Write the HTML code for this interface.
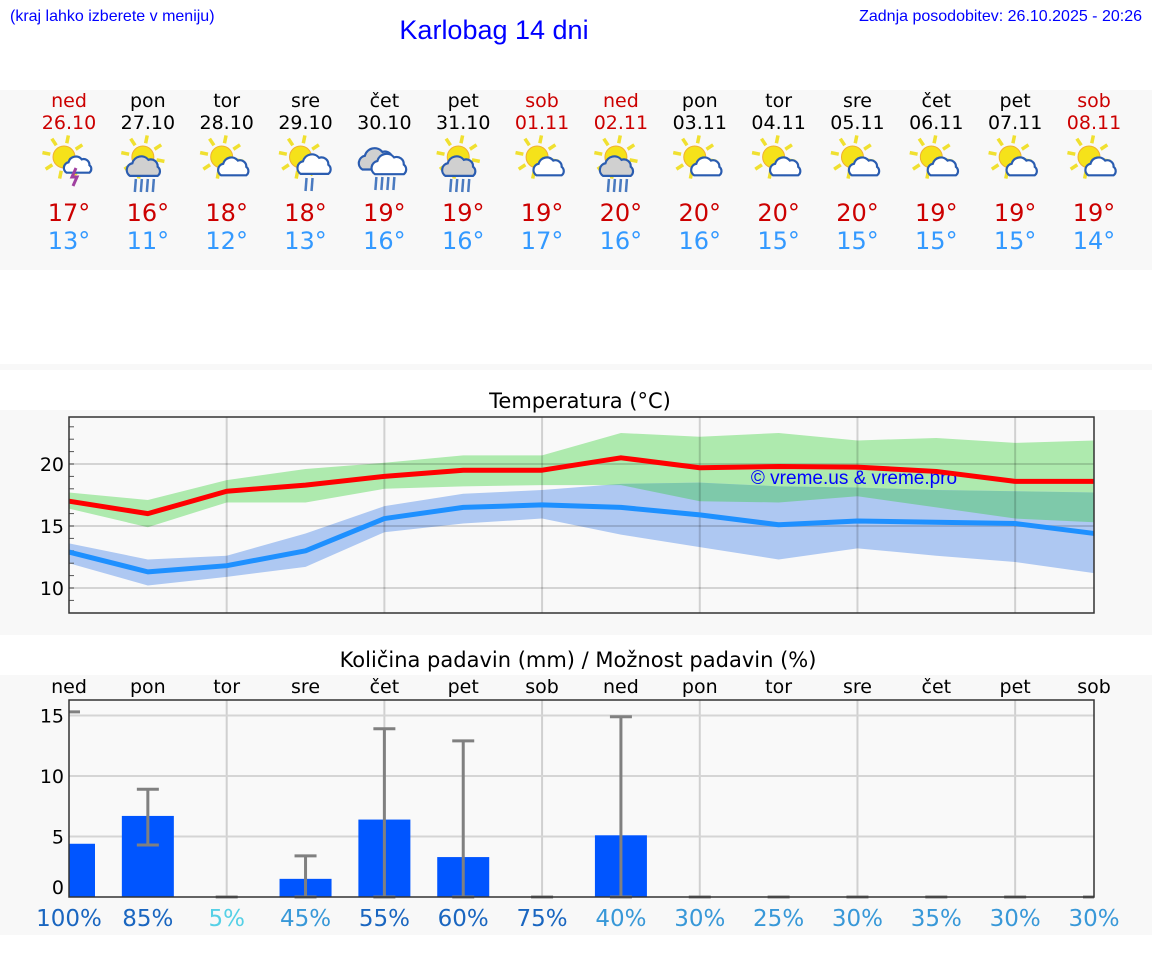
<!DOCTYPE html>
<html><head><meta charset="utf-8">
<style>
html,body{margin:0;padding:0;background:#fff;}
svg{display:block;font-family:"DejaVu Sans","Liberation Sans",sans-serif;}
</style></head>
<body>
<svg id="root" width="1152" height="975" viewBox="0 0 1152 975" xmlns="http://www.w3.org/2000/svg">
  <rect x="0" y="0" width="1152" height="975" fill="#ffffff"/>
  <text x="10" y="21" font-family="Liberation Sans, sans-serif" font-size="16" fill="#0000ff">(kraj lahko izberete v meniju)</text>
  <text x="494" y="39" text-anchor="middle" font-family="Liberation Sans, sans-serif" font-size="27" fill="#0000ff">Karlobag 14 dni</text>
  <text x="1142" y="21" text-anchor="end" font-family="Liberation Sans, sans-serif" font-size="16" fill="#0000ff">Zadnja posodobitev: 26.10.2025 - 20:26</text>
  <rect x="0" y="90" width="1152" height="180" fill="#f8f8f8"/>
  <rect x="0" y="364" width="1152" height="6" fill="#f8f8f8"/>
  <rect x="0" y="410" width="1152" height="225" fill="#f8f8f8"/>
  <text x="580" y="408" text-anchor="middle" font-size="21" fill="#000">Temperatura (°C)</text>
  <rect x="0" y="675" width="1152" height="260" fill="#f8f8f8"/>
  <text x="578" y="667" text-anchor="middle" font-size="21" fill="#000">Količina padavin (mm) / Možnost padavin (%)</text>
  <g id="summary"></g>
  <g id="temp"></g>
  <g id="precip"></g>
</svg>
<script>
const dayNames = ["ned","pon","tor","sre","čet","pet","sob","ned","pon","tor","sre","čet","pet","sob"];
const dates = ["26.10","27.10","28.10","29.10","30.10","31.10","01.11","02.11","03.11","04.11","05.11","06.11","07.11","08.11"];
const maxTemps = [17,16,18,18,19,19,19,20,20,20,20,19,19,19];
const minTemps = [13,11,12,13,16,16,17,16,16,15,15,15,15,14];
const icons = ["storm","rain","cloud","rain2","heavy","rain","cloud","rain","cloud","cloud","cloud","cloud","cloud","cloud"];
const weekend = [true,false,false,false,false,false,true,true,false,false,false,false,false,true];

const tMaxLine = [17.0,16.0,17.8,18.3,19.0,19.5,19.5,20.5,19.7,19.8,19.75,19.4,18.6,18.6];
const tMaxHi = [17.7,17.1,18.7,19.6,20.1,20.7,20.7,22.5,22.2,22.5,21.9,22.1,21.7,21.9];
const tMaxLo = [16.4,14.9,16.9,16.9,18.0,18.2,18.3,18.3,17.0,16.9,17.4,16.5,15.6,15.3];
const tMinLine = [12.9,11.3,11.8,13.0,15.6,16.5,16.7,16.5,15.9,15.1,15.4,15.3,15.2,14.4];
const tMinHi = [13.6,12.3,12.6,14.4,16.6,17.6,17.9,18.4,18.5,18.2,18.1,17.9,17.8,17.7];
const tMinLo = [12.0,10.2,10.9,11.7,14.5,15.2,15.6,14.3,13.3,12.3,13.2,12.6,12.1,11.2];
const tempTicks = [10,15,20];

const precipAmt = [4.4,6.7,0,1.5,6.4,3.3,0,5.1,0,0,0,0,0,0];
const precipErrLo = [15.3,4.3,0,0,0,0,0,0,0,0,0,0,0,0];
const precipErrHi = [15.3,8.9,0,3.4,13.9,12.9,0,14.9,0,0,0,0,0,0];
const precipProb = [100,85,5,45,55,60,75,40,30,25,30,35,30,30];
const precipTicks = [0,5,10,15];

const NS="http://www.w3.org/2000/svg";
function mk(parent,tag,attrs){const e=document.createElementNS(NS,tag);for(const k in attrs)e.setAttribute(k,attrs[k]);parent.appendChild(e);return e;}
const X0=69,X1=1094;
const xDay = i => X0 + i*(X1-X0)/13;

// summary
const sum=document.getElementById('summary');
function sun(g,cx,cy,r){
  for(let a=0;a<8;a++){const an=a*Math.PI/4+0.2;
    const l=mk(g,'line',{x1:cx+Math.cos(an)*(r+3),y1:cy+Math.sin(an)*(r+3),x2:cx+Math.cos(an)*(r+11),y2:cy+Math.sin(an)*(r+11),stroke:'#f0e030','stroke-width':3.5});
    }
  const c=mk(g,'circle',{cx:cx,cy:cy,r:r,fill:'#f5e21a',stroke:'#f0b030','stroke-width':1});
  
}
function cloud(g,cx,cy,s,fill){
  const p=mk(g,'path',{d:`M${cx-12*s},${cy+6*s} a${6*s},${6*s} 0 0 1 ${2*s},${-11*s} a${8*s},${8*s} 0 0 1 ${14*s},${-3*s} a${6*s},${6*s} 0 0 1 ${8*s},${6*s} a${5*s},${5*s} 0 0 1 0,${8*s} Z`,fill:fill,stroke:'#2a5cb0','stroke-width':2.2});
  
}
function rain(g,cx,cy,n){
  for(let k=0;k<n;k++){const l=mk(g,'line',{x1:cx-9+k*6+1,y1:cy,x2:cx-9+k*6,y2:cy+13,stroke:'#4a7ac0','stroke-width':2.5});
    }
}
for(let i=0;i<14;i++){
  const x=xDay(i);
  const g=mk(sum,'g',{});
  
  
  const col=weekend[i]?'#cc0000':'#000';
  const t1=mk(g,'text',{x:x,y:107,'text-anchor':'middle','font-size':19,fill:col});t1.textContent=dayNames[i];
  
  const t2=mk(g,'text',{x:x,y:129,'text-anchor':'middle','font-size':19,fill:col});t2.textContent=dates[i];
  
  const ig=mk(g,'g',{});
  
  const ty=icons[i];
  if(ty==='heavy'){cloud(ig,x-7,162,1.25,'#d0d0d0');cloud(ig,x+5,167,1.2,'#fff');rain(ig,x,177,4);}
  else{
    sun(ig,x-5,157,11);
    if(ty==='storm'){cloud(ig,x+9,167,0.95,'#fff');const b=mk(ig,'path',{d:`M${x+7},${168} l-4,9 h5 l-4,9`,stroke:'#a040a0','stroke-width':3,fill:'none'});}
    else if(ty==='rain'){cloud(ig,x-4,169,1.15,'#d0d0d0');rain(ig,x-4,179,4);}
    else if(ty==='rain2'){cloud(ig,x+9,167,1.15,'#fff');rain(ig,x+9,178,2);}
    else{cloud(ig,x+7,169,1.05,'#fff');}
  }
  const t3=mk(g,'text',{x:x,y:221,'text-anchor':'middle','font-size':24,fill:'#cc0000'});t3.textContent=maxTemps[i]+'°';
  
  const t4=mk(g,'text',{x:x,y:249,'text-anchor':'middle','font-size':24,fill:'#3399ff'});t4.textContent=minTemps[i]+'°';
  
}

// temperature chart
const tg=document.getElementById('temp');
const TY0=417,TY1=613;
const ty=v=>464-(v-20)*12.4;
const pr=mk(tg,'rect',{x:X0,y:TY0,width:X1-X0,height:TY1-TY0,fill:'#f9f9f9'});

function band(hi,lo){let d='';hi.forEach((v,i)=>d+=(i?'L':'M')+xDay(i)+','+ty(v));for(let i=lo.length-1;i>=0;i--)d+='L'+xDay(i)+','+ty(lo[i]);return d+'Z';}
function line(a){return a.map((v,i)=>(i?'L':'M')+xDay(i)+','+ty(v)).join('');}
const defs=mk(tg,'defs',{});
const cp=mk(defs,'clipPath',{id:'blueclip'});
mk(cp,'path',{d:band(tMinHi,tMinLo)});
const gb=mk(tg,'path',{d:band(tMaxHi,tMaxLo),fill:'#aeeaae'});
const bb=mk(tg,'path',{d:band(tMinHi,tMinLo),fill:'#aec8f2'});
const ob=mk(tg,'path',{d:band(tMaxHi,tMaxLo),fill:'#7ec9aa','clip-path':'url(#blueclip)'});
for(let i=2;i<13;i+=2){const l=mk(tg,'line',{x1:xDay(i),x2:xDay(i),y1:TY0,y2:TY1,stroke:'rgba(0,0,0,0.16)','stroke-width':2});}
tempTicks.forEach(v=>{
  const l=mk(tg,'line',{x1:X0,x2:X1,y1:ty(v),y2:ty(v),stroke:'rgba(0,0,0,0.15)','stroke-width':2});
  const t=mk(tg,'text',{x:64,y:ty(v)+7,'text-anchor':'end','font-size':19,fill:'#000'});t.textContent=v;
});
for(let v=9;v<=23;v++){const l=mk(tg,'line',{x1:X0,x2:X0+5,y1:ty(v),y2:ty(v),stroke:'#555','stroke-width':1});}
const wm=mk(tg,'text',{x:854,y:484,'text-anchor':'middle','font-family':'Liberation Sans, sans-serif','font-size':19,fill:'#0000ff'});wm.textContent='© vreme.us & vreme.pro';
const ml=mk(tg,'path',{d:line(tMaxLine),fill:'none',stroke:'#ff0000','stroke-width':5,'stroke-linejoin':'round'});
const nl=mk(tg,'path',{d:line(tMinLine),fill:'none',stroke:'#1e90ff','stroke-width':5,'stroke-linejoin':'round'});
const fr=mk(tg,'rect',{x:X0,y:TY0,width:X1-X0,height:TY1-TY0,fill:'none',stroke:'#333','stroke-width':1.5});

// precipitation chart
const pg=document.getElementById('precip');
const PY0=700,PY1=897;
const py=v=>PY1-v*12.1;
const pa=mk(pg,'rect',{x:X0,y:PY0,width:X1-X0,height:PY1-PY0,fill:'#f9f9f9'});
for(let i=2;i<13;i+=2){const l=mk(pg,'line',{x1:xDay(i),x2:xDay(i),y1:PY0,y2:PY1,stroke:'#d0d0d0','stroke-width':2});}
precipTicks.forEach(v=>{
  if(v>0){const l=mk(pg,'line',{x1:X0,x2:X1,y1:py(v),y2:py(v),stroke:'#d5d5d5','stroke-width':2});}
  const t=mk(pg,'text',{x:64,y:py(v)+(v===0?-3:7),'text-anchor':'end','font-size':19,fill:'#000'});t.textContent=v;
});
for(let i=0;i<14;i++){
  const x=xDay(i);
  const dn=mk(pg,'text',{x:x,y:693,'text-anchor':'middle','font-size':19,fill:'#000'});dn.textContent=dayNames[i];
  if(precipAmt[i]>0){
    const bx=Math.max(X0,x-26),bw=Math.min(X1,x+26)-bx;
    const b=mk(pg,'rect',{x:bx,y:py(precipAmt[i]),width:bw,height:PY1-py(precipAmt[i]),fill:'#0055ff'});
    
  }
  const lo=precipErrLo[i],hi=precipErrHi[i];
  if(hi>lo){const l=mk(pg,'line',{x1:x,x2:x,y1:py(lo),y2:py(hi),stroke:'#808080','stroke-width':3});
    const c2=mk(pg,'line',{x1:x-11,x2:x+11,y1:py(lo),y2:py(lo),stroke:'#808080','stroke-width':3});}
  const c=mk(pg,'line',{x1:Math.max(X0,x-11),x2:Math.min(X1,x+11),y1:py(hi),y2:py(hi),stroke:'#808080','stroke-width':3});
  const p=precipProb[i];
  const col=p>=50?'#1a66c0':(p<=10?'#55d0e6':'#3898d8');
  const pt=mk(pg,'text',{x:x,y:926,'text-anchor':'middle','font-size':23,fill:col});pt.textContent=p+'%';
}
const pf=mk(pg,'rect',{x:X0,y:PY0,width:X1-X0,height:PY1-PY0,fill:'none',stroke:'#333','stroke-width':1.5});
</script>
</body></html>
